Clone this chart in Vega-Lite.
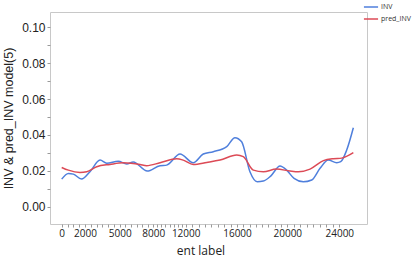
{
  "$schema": "https://vega.github.io/schema/vega-lite/v6.json",
  "width": 317,
  "height": 212,
  "autosize": {"type": "none"},
  "padding": {"left": 50, "top": 12, "right": 48, "bottom": 35},
  "background": "white",
  "config": {"view": {"stroke": "#c8c8c8", "strokeWidth": 1}},
  "data": {"values": [
    {"series": "INV", "ent": 0, "v": 0.0154},
    {"series": "INV", "ent": 570, "v": 0.0186},
    {"series": "INV", "ent": 1000, "v": 0.0182},
    {"series": "INV", "ent": 1700, "v": 0.0154},
    {"series": "INV", "ent": 2430, "v": 0.0195},
    {"series": "INV", "ent": 3300, "v": 0.0260},
    {"series": "INV", "ent": 3880, "v": 0.0242},
    {"series": "INV", "ent": 4880, "v": 0.0253},
    {"series": "INV", "ent": 5625, "v": 0.0238},
    {"series": "INV", "ent": 6210, "v": 0.0249},
    {"series": "INV", "ent": 7460, "v": 0.0199},
    {"series": "INV", "ent": 8830, "v": 0.0229},
    {"series": "INV", "ent": 9650, "v": 0.0232},
    {"series": "INV", "ent": 11300, "v": 0.0294},
    {"series": "INV", "ent": 12590, "v": 0.0245},
    {"series": "INV", "ent": 13370, "v": 0.0294},
    {"series": "INV", "ent": 14150, "v": 0.0307},
    {"series": "INV", "ent": 15200, "v": 0.0335},
    {"series": "INV", "ent": 15840, "v": 0.0385},
    {"series": "INV", "ent": 16370, "v": 0.0362},
    {"series": "INV", "ent": 17030, "v": 0.0195},
    {"series": "INV", "ent": 17610, "v": 0.0139},
    {"series": "INV", "ent": 18090, "v": 0.0143},
    {"series": "INV", "ent": 18680, "v": 0.0171},
    {"series": "INV", "ent": 19420, "v": 0.0227},
    {"series": "INV", "ent": 19950, "v": 0.0204},
    {"series": "INV", "ent": 20520, "v": 0.0158},
    {"series": "INV", "ent": 21230, "v": 0.0139},
    {"series": "INV", "ent": 21880, "v": 0.0149},
    {"series": "INV", "ent": 22520, "v": 0.0214},
    {"series": "INV", "ent": 23150, "v": 0.0260},
    {"series": "INV", "ent": 23800, "v": 0.0245},
    {"series": "INV", "ent": 24110, "v": 0.0251},
    {"series": "INV", "ent": 24570, "v": 0.0316},
    {"series": "INV", "ent": 25080, "v": 0.0440},
    {"series": "pred_INV", "ent": 0, "v": 0.0219},
    {"series": "pred_INV", "ent": 570, "v": 0.0204},
    {"series": "pred_INV", "ent": 1570, "v": 0.0191},
    {"series": "pred_INV", "ent": 2150, "v": 0.0195},
    {"series": "pred_INV", "ent": 3010, "v": 0.0223},
    {"series": "pred_INV", "ent": 4160, "v": 0.0236},
    {"series": "pred_INV", "ent": 5320, "v": 0.0245},
    {"series": "pred_INV", "ent": 6810, "v": 0.0236},
    {"series": "pred_INV", "ent": 7400, "v": 0.0229},
    {"series": "pred_INV", "ent": 8830, "v": 0.0245},
    {"series": "pred_INV", "ent": 10890, "v": 0.0268},
    {"series": "pred_INV", "ent": 11700, "v": 0.0260},
    {"series": "pred_INV", "ent": 12590, "v": 0.0236},
    {"series": "pred_INV", "ent": 13640, "v": 0.0247},
    {"series": "pred_INV", "ent": 14680, "v": 0.0260},
    {"series": "pred_INV", "ent": 15980, "v": 0.0288},
    {"series": "pred_INV", "ent": 16500, "v": 0.0279},
    {"series": "pred_INV", "ent": 17300, "v": 0.0204},
    {"series": "pred_INV", "ent": 18100, "v": 0.0195},
    {"series": "pred_INV", "ent": 19130, "v": 0.0210},
    {"series": "pred_INV", "ent": 20210, "v": 0.0199},
    {"series": "pred_INV", "ent": 20850, "v": 0.0195},
    {"series": "pred_INV", "ent": 21750, "v": 0.0210},
    {"series": "pred_INV", "ent": 22780, "v": 0.0257},
    {"series": "pred_INV", "ent": 23540, "v": 0.0268},
    {"series": "pred_INV", "ent": 24180, "v": 0.0271},
    {"series": "pred_INV", "ent": 25080, "v": 0.0301}
  ]},
  "mark": {"type": "line", "interpolate": "monotone", "strokeWidth": 1.5},
  "encoding": {
    "x": {
      "field": "ent", "type": "quantitative",
      "scale": {"domain": [0, 2000, 5000, 8000, 12000, 16000, 20000, 24000], "range": [11.7, 35, 69.7, 103.3, 135.7, 187, 237.3, 289.3], "nice": false, "zero": false},
      "axis": {
        "title": "ent label",
        "values": [-500, 0, 500, 1000, 1500, 2000, 2500, 3000, 3500, 4000, 4500, 5000, 5500, 6000, 6500, 7000, 7500, 8000, 8500, 9000, 9500, 10000, 10500, 11000, 11500, 12000, 12500, 13000, 13500, 14000, 14500, 15000, 15500, 16000, 16500, 17000, 17500, 18000, 18500, 19000, 19500, 20000, 20500, 21000, 21500, 22000, 22500, 23000, 23500, 24000, 24500, 25000, 25500],
        "labelExpr": "indexof([0,2000,5000,8000,12000,16000,20000,24000], datum.value) >= 0 ? format(datum.value, 'd') : ''",
        "labelOverlap": false,
        "labelFlush": false,
        "grid": false, "domain": false,
        "tickSize": 3, "tickColor": "#9a9a9a",
        "labelFont": "Open Sans", "labelFontSize": 10, "labelColor": "#222", "labelPadding": 1,
        "titleFont": "Open Sans", "titleFontSize": 12, "titleFontWeight": "normal", "titleColor": "#222", "titlePadding": 7
      }
    },
    "y": {
      "field": "v", "type": "quantitative",
      "scale": {"domain": [-0.0096, 0.1085], "nice": false, "zero": false},
      "axis": {
        "title": "INV & pred_INV model(5)",
        "values": [0, 0.01, 0.02, 0.03, 0.04, 0.05, 0.06, 0.07, 0.08, 0.09, 0.1],
        "labelExpr": "round(datum.value * 100) % 2 == 0 ? format(datum.value, '.2f') : ''",
        "grid": false, "domain": false,
        "tickSize": 3, "tickColor": "#9a9a9a",
        "labelFont": "Liberation Sans", "labelFontSize": 12, "labelColor": "#222", "labelPadding": 2,
        "titleFont": "Liberation Sans", "titleFontSize": 12.5, "titleFontWeight": "normal", "titleColor": "#222", "titlePadding": 6
      }
    },
    "color": {
      "field": "series", "type": "nominal",
      "scale": {"domain": ["INV", "pred_INV"], "range": ["#4f7fdc", "#dc4a56"]},
      "legend": {
        "title": null, "orient": "none", "legendX": 313, "legendY": -13,
        "symbolType": "stroke", "symbolStrokeWidth": 1.5, "symbolSize": 200,
        "labelFontSize": 7, "labelFont": "Open Sans", "labelColor": "#333",
        "rowPadding": 1, "labelOffset": 2, "padding": 0
      }
    }
  }
}
